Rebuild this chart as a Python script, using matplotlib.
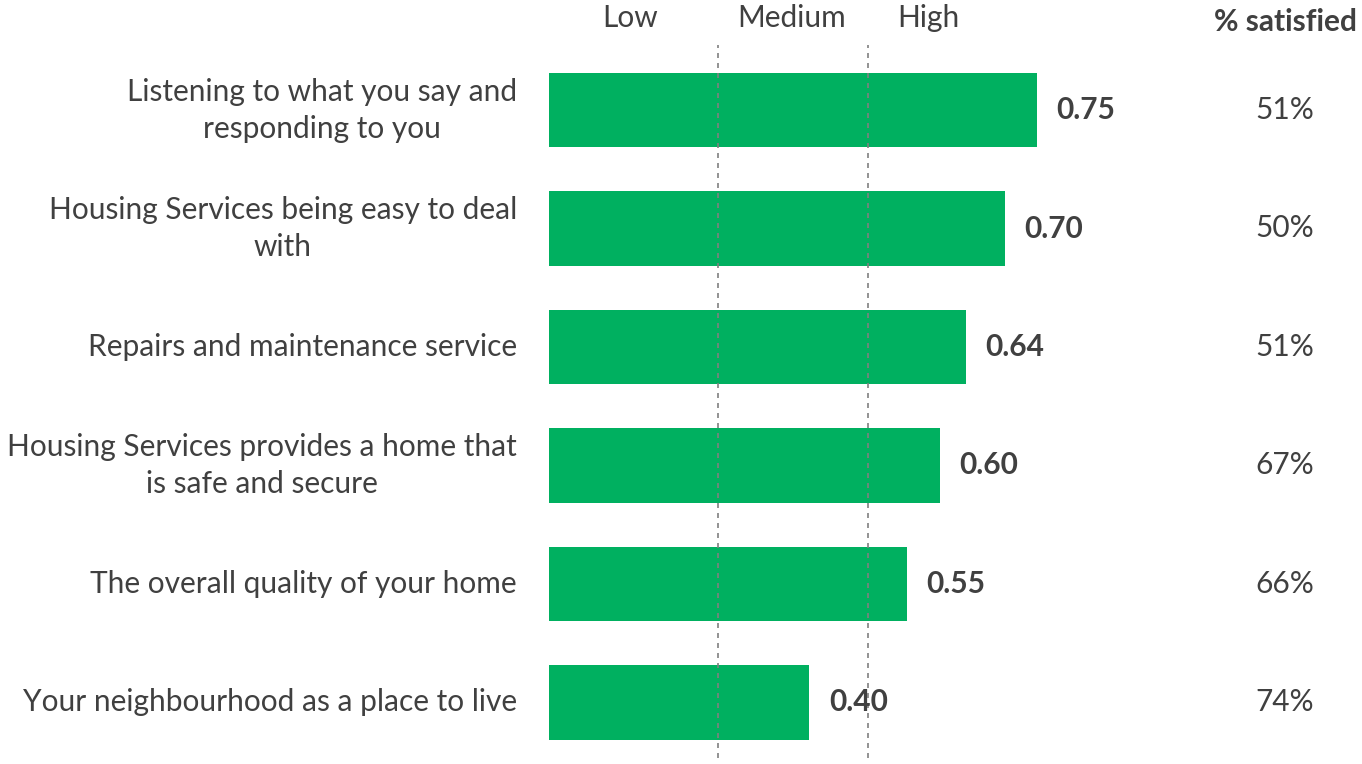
import matplotlib
matplotlib.use("Agg")
import matplotlib.pyplot as plt

categories = [
    "Listening to what you say and\nresponding to you",
    "Housing Services being easy to deal\nwith",
    "Repairs and maintenance service",
    "Housing Services provides a home that\nis safe and secure",
    "The overall quality of your home",
    "Your neighbourhood as a place to live",
]
scores = [0.75, 0.70, 0.64, 0.60, 0.55, 0.40]
pct_satisfied = ["51%", "50%", "51%", "67%", "66%", "74%"]
band_labels = ["Low", "Medium", "High"]
band_edges = [0.26, 0.49]

W, H = 1362, 764
fig = plt.figure(figsize=(W / 100, H / 100), dpi=100)
plt.rcParams['font.family'] = ['Lato', 'DejaVu Sans']
TXT = "#404040"
GREEN = "#00B060"
FS = 21.5

ax_left, ax_right = 549, 1200
ax_top, ax_bottom = 45, 758
ax = fig.add_axes([ax_left / W, 1 - ax_bottom / H, (ax_right - ax_left) / W, (ax_bottom - ax_top) / H])
ax.set_xlim(0, 1)
ax.set_ylim(5.47, -0.55)
ax.axis("off")

y = list(range(len(categories)))
ax.barh(y, scores, height=0.63, color=GREEN, zorder=1)
for e in band_edges:
    ax.axvline(e, color="#808080", linestyle=(0, (3, 3)), linewidth=1.2, zorder=3)

for yi, s, cat, p in zip(y, scores, categories, pct_satisfied):
    ax.annotate(f"{s:.2f}", xy=(s, yi), xytext=(14, 0), textcoords="offset points",
                ha="left", va="center", fontsize=FS, fontweight="bold", color=TXT)
    ax.annotate(cat, xy=(0, yi), xytext=(-23, 0), textcoords="offset points",
                ha="right", va="center", fontsize=FS, color=TXT, linespacing=1.4,
                multialignment="center")
    fig.text(1285 / W, 1 - ((yi * 118.4 + 110)) / H, p, ha="center", va="center",
             fontsize=FS, color=TXT)

# band labels
band_centers_px = [630, 792, 928]
for lbl, cx in zip(band_labels, band_centers_px):
    fig.text(cx / W, 1 - 18 / H, lbl, ha="center", va="center", fontsize=FS, color=TXT)
fig.text(1285 / W, 1 - 22 / H, "% satisfied", ha="center", va="center",
         fontsize=FS, fontweight="bold", color=TXT)

fig.savefig("out.png", dpi=100, facecolor="white")
